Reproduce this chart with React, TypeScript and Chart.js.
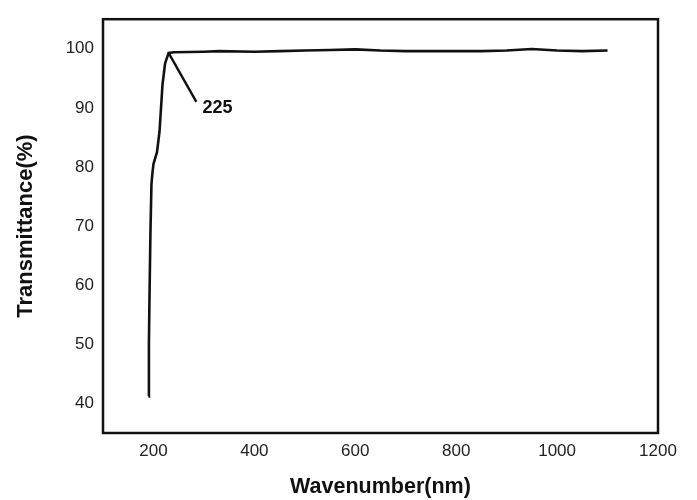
import React, { useEffect, useRef } from "react";
import { Chart, registerables } from "chart.js";

Chart.register(...registerables);

// Transmittance spectrum
const wavelengths = [190, 191, 192, 194, 196, 198, 200, 207, 212, 218, 223, 230, 240, 300, 330, 400, 450, 500, 550, 600, 650, 700, 750, 800, 850, 900, 950, 1000, 1050, 1100];
const transmittance = [41.2, 50, 57, 68.8, 77, 79, 80.5, 82.5, 86, 94, 97.5, 99.3, 99.4, 99.5, 99.6, 99.5, 99.6, 99.7, 99.8, 99.9, 99.7, 99.6, 99.6, 99.6, 99.6, 99.7, 99.95, 99.7, 99.6, 99.7];

// Annotation pointer to the absorption edge
const pointerX = [230, 285];
const pointerY = [99.3, 91];
const annotationLabel = "225";
const annotationAt = { x: 297, y: 90 };

const xTicks = [200, 400, 600, 800, 1000, 1200];
const yTicks = [40, 50, 60, 70, 80, 90, 100];

const FONT = "Arial, 'Liberation Sans', Helvetica, sans-serif";

export default function App() {
  const ref = useRef<HTMLCanvasElement | null>(null);

  useEffect(() => {
    if (!ref.current) return;

    const framePlugin = {
      id: "frame",
      afterDatasetsDraw(chart: any) {
        const { ctx, chartArea } = chart;
        ctx.save();
        ctx.strokeStyle = "#111";
        ctx.lineWidth = 2.5;
        ctx.strokeRect(chartArea.left, chartArea.top, chartArea.right - chartArea.left, chartArea.bottom - chartArea.top);
        const xs = chart.scales.x;
        const ys = chart.scales.y;
        ctx.fillStyle = "#111";
        ctx.font = `bold 18px ${FONT}`;
        ctx.textAlign = "left";
        ctx.textBaseline = "middle";
        ctx.fillText(annotationLabel, xs.getPixelForValue(annotationAt.x), ys.getPixelForValue(annotationAt.y));
        ctx.restore();
      },
    };

    const chart = new Chart(ref.current, {
      type: "line",
      data: {
        datasets: [
          {
            data: wavelengths.map((x, i) => ({ x, y: transmittance[i] })),
            borderColor: "#111",
            borderWidth: 2.6,
            pointRadius: 0,
            tension: 0,
            fill: false,
          },
          {
            data: pointerX.map((x, i) => ({ x, y: pointerY[i] })),
            borderColor: "#111",
            borderWidth: 2.4,
            pointRadius: 0,
            tension: 0,
            fill: false,
          },
        ],
      },
      options: {
        responsive: false,
        animation: false,
        layout: { padding: { top: 12, right: 39, left: 0, bottom: 0 } },
        plugins: {
          legend: { display: false },
          tooltip: { enabled: false },
        },
        scales: {
          x: {
            type: "linear",
            min: 100,
            max: 1200,
            grid: { display: false, drawTicks: false },
            border: { display: false },
            afterBuildTicks: (s: any) => {
              s.ticks = xTicks.map((v) => ({ value: v }));
            },
            afterFit: (s: any) => {
              s.height = 67;
            },
            ticks: {
              padding: 8,
              color: "#222",
              font: { family: FONT, size: 17 },
              maxRotation: 0,
              autoSkip: false,
              callback: (v: any) => String(v),
            },
            title: {
              display: true,
              text: "Wavenumber(nm)",
              color: "#111",
              font: { family: FONT, size: 21.5, weight: "bold" },
              padding: { top: 0, bottom: 0 },
            },
          },
          y: {
            type: "linear",
            min: 35,
            max: 105,
            grid: { display: false, drawTicks: false },
            border: { display: false },
            afterBuildTicks: (s: any) => {
              s.ticks = yTicks.map((v) => ({ value: v }));
            },
            afterFit: (s: any) => {
              s.width = 103;
            },
            ticks: {
              padding: 9,
              color: "#222",
              font: { family: FONT, size: 17 },
              autoSkip: false,
              callback: (v: any) => String(v),
            },
            title: {
              display: true,
              text: "Transmittance(%)",
              color: "#111",
              font: { family: FONT, size: 22, weight: "bold" },
              padding: { top: 13, bottom: 0 },
            },
          },
        },
      },
      plugins: [framePlugin],
    });

    return () => chart.destroy();
  }, []);

  return (
    <div style={{ position: "fixed", left: 0, top: 0, width: 697, height: 500, background: "#fff" }}>
      <canvas ref={ref} width={697} height={500} style={{ display: "block" }} />
    </div>
  );
}
